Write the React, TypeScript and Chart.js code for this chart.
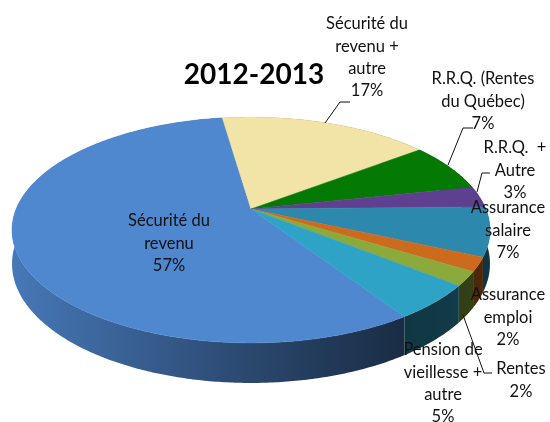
import React, { useEffect, useRef } from "react";
import { Chart, registerables } from "chart.js";

Chart.register(...registerables);

const categories = [
  "Sécurité du revenu",
  "Sécurité du revenu + autre",
  "R.R.Q. (Rentes du Québec)",
  "R.R.Q.  + Autre",
  "Assurance salaire",
  "Assurance emploi",
  "Rentes",
  "Pension de vieillesse + autre",
];
const shares = [57, 17, 7, 3, 7, 2, 2, 5];
const colours = ["#5088D0", "#F2E3A6", "#047A04", "#5F4090", "#2C88AC", "#CC6A1E", "#8CA93C", "#2FA3C6"];
const chartTitle = "2012-2013";

const labelLines = [
  ["Sécurité du", "revenu", "57%"],
  ["Sécurité du", "revenu +", "autre", "17%"],
  ["R.R.Q. (Rentes", "du Québec)", "7%"],
  ["R.R.Q.  +", "Autre", "3%"],
  ["Assurance", "salaire", "7%"],
  ["Assurance", "emploi", "2%"],
  ["Rentes", "2%"],
  ["Pension de", "vieillesse +", "autre", "5%"],
];
// label anchor: centre x, y of first line
const labelAnchors = [
  [169, 221], [367, 24], [483, 79], [515, 148], [508, 208], [508, 295], [521, 369], [443, 350],
];
const leaders = [
  [[325, 123], [340, 102], [350, 102]],
  [[448, 165], [463, 128], [473, 128]],
  [[477, 192], [482, 173], [490, 173]],
  [[463, 315], [484, 373], [492, 373]],
];

// perspective view of the disc
const view = { cx: 251, cy: 209, a: 234.8, b: 109, k: 0.186, depth: 32.6 };
const project = (u: number, v: number) => {
  const w = 1 - view.k * v;
  return [view.cx + (view.a * u) / w, view.cy + (view.b * v) / w, view.depth / w];
};

const shade = (hex: string, f: number) => {
  const n = parseInt(hex.slice(1), 16);
  const c = [(n >> 16) & 255, (n >> 8) & 255, n & 255].map((x) => Math.round(x * f));
  return `rgb(${c[0]},${c[1]},${c[2]})`;
};
const wallStops = [
  [0, 0.9],
  [270, 0.5],
  [400, 0.33],
  [550, 0.42],
];

const tiltedPie = {
  id: "tiltedPie",
  beforeDatasetsDraw(chart: any) {
    const ctx = chart.ctx;
    const arcs = chart.getDatasetMeta(0).data;
    ctx.save();
    // side wall
    arcs.forEach((arc: any) => {
      const { startAngle, endAngle } = arc.getProps(["startAngle", "endAngle"], true);
      const colour = arc.options.backgroundColor;
      const n = Math.max(2, Math.ceil((endAngle - startAngle) / 0.01));
      const grad = ctx.createLinearGradient(0, 0, 550, 0);
      wallStops.forEach(([x, f]) => grad.addColorStop(x / 550, shade(colour, f)));
      const rim: number[][] = [];
      for (let i = 0; i <= n; i++) {
        const t = startAngle + ((endAngle - startAngle) * i) / n;
        rim.push(project(Math.cos(t), Math.sin(t)));
      }
      ctx.fillStyle = grad;
      ctx.beginPath();
      rim.forEach((p, i) => (i ? ctx.lineTo(p[0], p[1]) : ctx.moveTo(p[0], p[1])));
      for (let i = n; i >= 0; i--) ctx.lineTo(rim[i][0], rim[i][1] + rim[i][2]);
      ctx.closePath();
      ctx.fill();
    });
    // top face
    arcs.forEach((arc: any) => {
      const { startAngle, endAngle } = arc.getProps(["startAngle", "endAngle"], true);
      const n = Math.max(2, Math.ceil((endAngle - startAngle) / 0.01));
      ctx.fillStyle = arc.options.backgroundColor;
      ctx.strokeStyle = arc.options.backgroundColor;
      ctx.lineWidth = 0.5;
      ctx.beginPath();
      ctx.moveTo(view.cx, view.cy);
      for (let i = 0; i <= n; i++) {
        const t = startAngle + ((endAngle - startAngle) * i) / n;
        const p = project(Math.cos(t), Math.sin(t));
        ctx.lineTo(p[0], p[1]);
      }
      ctx.closePath();
      ctx.fill();
      ctx.stroke();
    });
    // leader lines
    ctx.strokeStyle = "#111";
    ctx.lineWidth = 1;
    leaders.forEach((pts) => {
      ctx.beginPath();
      pts.forEach((p, i) => (i ? ctx.lineTo(p[0], p[1]) : ctx.moveTo(p[0], p[1])));
      ctx.stroke();
    });
    // labels
    ctx.fillStyle = "#111";
    ctx.textAlign = "center";
    ctx.textBaseline = "middle";
    ctx.font = "16.5px Lato";
    labelLines.forEach((lines, i) => {
      lines.forEach((line, j) => {
        ctx.fillText(line, labelAnchors[i][0], labelAnchors[i][1] + j * 22.3);
      });
    });
    ctx.font = "bold 28px Lato";
    ctx.fillStyle = "#000";
    ctx.fillText(chartTitle, 254, 75);
    ctx.restore();
    return false;
  },
};

export default function App() {
  const ref = useRef<HTMLCanvasElement | null>(null);
  useEffect(() => {
    const chart = new Chart(ref.current!, {
      type: "pie",
      data: {
        labels: categories,
        datasets: [{ data: shares, backgroundColor: colours }],
      },
      options: {
        animation: false,
        responsive: false,
        rotation: 146.5,
        plugins: { legend: { display: false }, tooltip: { enabled: false } },
      },
      plugins: [tiltedPie],
    } as any);
    return () => chart.destroy();
  }, []);
  return (
    <div style={{ position: "absolute", left: 0, top: 0, width: 550, height: 422, overflow: "hidden", background: "#fff" }}>
      <canvas ref={ref} width={550} height={422} style={{ display: "block" }} />
    </div>
  );
}
